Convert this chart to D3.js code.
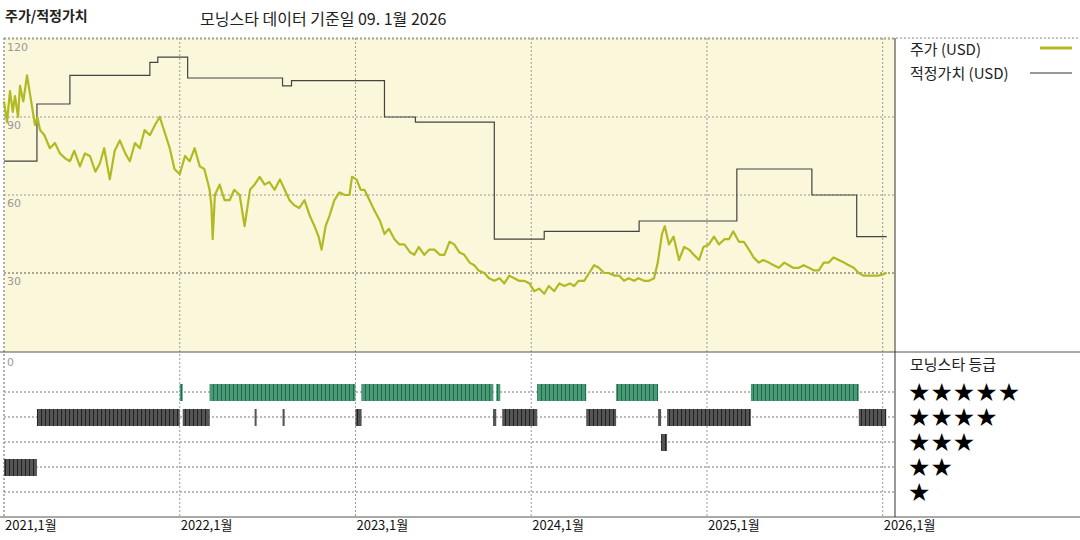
<!DOCTYPE html>
<html><head><meta charset="utf-8">
<script src="https://cdn.jsdelivr.net/npm/d3@7"></script>
<style>body{margin:0;background:#fff;font-family:"Noto Sans CJK KR","DejaVu Sans",sans-serif}</style>
</head><body><svg id="c" width="1080" height="540"></svg>
<script>
const yearTicks=[2021,2022,2023,2024,2025,2026];
const yearLabels=["2021,1월","2022,1월","2023,1월","2024,1월","2025,1월","2026,1월"];
const priceTicks=[120,90,60,30];
const priceT=[0,.017,.034,.05,.0625,.08,.091,.11,.131,.15,.176,.19,.205,.23,.261,.29,.318,.35,.375,.40,.432,.46,.489,.52,.545,.57,.602,.63,.659,.69,.716,.745,.773,.80,.830,.86,.886,.91,.943,.97,1.0,1.03,1.057,1.085,1.114,1.14,1.170,1.18,1.1875,1.20,1.227,1.255,1.284,1.31,1.341,1.369,1.40,1.426,1.455,1.483,1.51,1.540,1.57,1.597,1.625,1.653,1.68,1.710,1.74,1.767,1.79,1.807,1.83,1.852,1.88,1.909,1.94,1.966,1.98,2.006,2.03,2.051,2.08,2.108,2.14,2.165,2.19,2.222,2.25,2.278,2.31,2.335,2.36,2.392,2.42,2.449,2.48,2.506,2.535,2.562,2.59,2.619,2.65,2.676,2.70,2.733,2.76,2.790,2.82,2.847,2.875,2.903,2.93,2.960,2.99,3.017,3.045,3.074,3.10,3.131,3.16,3.188,3.22,3.244,3.27,3.301,3.33,3.358,3.385,3.415,3.44,3.472,3.50,3.528,3.555,3.585,3.61,3.642,3.67,3.699,3.72,3.744,3.76,3.784,3.81,3.841,3.87,3.898,3.925,3.955,3.98,4.011,4.04,4.068,4.10,4.125,4.15,4.182,4.21,4.239,4.265,4.295,4.32,4.352,4.38,4.409,4.44,4.466,4.49,4.523,4.55,4.580,4.61,4.636,4.665,4.693,4.72,4.75,4.78,4.807,4.835,4.864,4.89,4.920,4.95,4.977,5.023].map(t=>2021+t);
const priceV=[96,88,100,92,98,90,102,96,106,98,87,90,85,83,78,80,76,74,73,77,71,76,75,69,72,78,66,77,81,76,73,80,78,85,83,87,90,85,78,70,68,75,73,78,71,70,62,56,43,60,64,58,58,62,60,48,62,64,67,64,65,62,66,62,58,56,55,58,52,48,44,39,48,52,58,61,60,60,67,66,62,62,58,54,50,45,47,43,41,41,38,37,40,37,39,39,37,37,42,41,38,37,34,33,31,30,28,27,28,26,29,28,27,27,26,23,24,22,25,23,26,25,26,25,27,27,30,33,32,30,30,29,29,27,28,27,28,27,27,28,34,45,48,41,44,35,40,39,37,35,40,41,44,41,43,43,46,42,42,39,36,34,35,34,33,32,34,33,32,32,33,32,31,31,34,34,36,35,34,33,32,30,29,29,29,29,30];
const fairT=[2021.0,2021.1875,2021.375,2021.83,2021.875,2022.045,2022.585,2022.636,2023.165,2023.341,2023.790,2024.074,2024.614,2025.170,2025.597,2025.852,2026.023];
const fairV=[73,95,106,111,113,105,102,104,90,88,43,46,50,70,60,44,44];
const ratingStart=[2021.0,2021.1875,2022.0,2022.017,2022.170,2022.426,2022.585,2023.0,2023.034,2023.784,2023.801,2023.835,2024.034,2024.313,2024.483,2024.722,2024.739,2024.773,2025.25,2025.864];
const ratingEnd  =[2021.1875,2022.0,2022.017,2022.170,2023.0,2022.4375,2022.597,2023.034,2023.784,2023.801,2023.824,2024.034,2024.313,2024.483,2024.722,2024.739,2024.773,2025.25,2025.864,2026.02];
const ratingStars=[2,4,5,4,5,4,4,4,5,4,5,4,5,4,5,4,3,4,5,4];

const svg=d3.select("#c");
const L=4,R=895,T=38,M=352,B=517;
const x=d3.scaleLinear().domain([2021,2026.07]).range([L,R]);
const y=d3.scaleLinear().domain([0,120]).range([351,39]);
const ry=d3.scaleLinear().domain([5,1]).range([392,492]);

const defs=svg.append("defs");
function pat(id,bg,fg){const p=defs.append("pattern").attr("id",id).attr("width",4).attr("height",10).attr("patternUnits","userSpaceOnUse");
 p.append("rect").attr("width",4).attr("height",10).attr("fill",bg);
 p.append("rect").attr("x",1).attr("width",1).attr("height",10).attr("fill",fg);}
pat("pg","#4a9a78","#1f6a4a");pat("pk","#555","#222");

svg.append("rect").attr("x",L).attr("y",T).attr("width",R-L).attr("height",M-T).attr("fill","#fbf7da");
const dash="2,2";
priceTicks.forEach(v=>{svg.append("line").attr("x1",L).attr("x2",R).attr("y1",y(v)).attr("y2",y(v)).attr("stroke",v===30?"#555":"#999").attr("stroke-dasharray",dash);
 svg.append("text").attr("x",L+3).attr("y",y(v)+12).attr("font-size",11).attr("fill","#999").attr("font-family","DejaVu Sans").text(v);});
svg.append("line").attr("x1",L).attr("x2",1080).attr("y1",T).attr("y2",T).attr("stroke","#888").attr("stroke-dasharray",dash);
[5,4,3,2,1].forEach(s=>svg.append("line").attr("x1",L).attr("x2",R).attr("y1",ry(s)).attr("y2",ry(s)).attr("stroke","#777").attr("stroke-dasharray",dash));
svg.append("text").attr("x",L+3).attr("y",M+14).attr("font-size",11).attr("fill","#999").attr("font-family","DejaVu Sans").text("0");
yearTicks.forEach(t=>svg.append("line").attr("x1",x(t)).attr("x2",x(t)).attr("y1",T).attr("y2",B).attr("stroke","#999").attr("stroke-dasharray",dash));
svg.append("line").attr("x1",L).attr("x2",L).attr("y1",T).attr("y2",B).attr("stroke","#999").attr("stroke-dasharray",dash);
const fd=fairT.map((t,i)=>[t,fairV[i]]);
svg.append("path").datum(fd).attr("d",d3.line().x(d=>x(d[0])).y(d=>y(d[1])).curve(d3.curveStepAfter)).attr("fill","none").attr("stroke","#444").attr("stroke-width",1.2);
const pd=priceT.map((t,i)=>[t,priceV[i]]);
svg.append("path").datum(pd).attr("d",d3.line().x(d=>x(d[0])).y(d=>y(d[1]))).attr("fill","none").attr("stroke","#b1b923").attr("stroke-width",2.2).attr("stroke-linejoin","round");
ratingStart.forEach((s,i)=>{const st=ratingStars[i];
 svg.append("rect").attr("x",x(s)).attr("width",Math.max(2,x(ratingEnd[i])-x(s))).attr("y",ry(st)-8).attr("height",17).attr("fill",st===5?"url(#pg)":"url(#pk)");});
svg.append("line").attr("x1",0).attr("x2",1080).attr("y1",M).attr("y2",M).attr("stroke","#555");
svg.append("line").attr("x1",0).attr("x2",1080).attr("y1",B).attr("y2",B).attr("stroke","#555");
svg.append("line").attr("x1",R).attr("x2",R).attr("y1",T).attr("y2",B).attr("stroke","#333");
yearTicks.forEach((t,i)=>svg.append("text").attr("x",x(t)+1).attr("y",B+13).attr("font-size",13).attr("fill","#111").text(yearLabels[i]));
svg.append("text").attr("x",5).attr("y",21).attr("font-size",14).attr("font-weight","bold").attr("fill","#222").text("주가/적정가치");
svg.append("text").attr("x",200).attr("y",25).attr("font-size",16).attr("fill","#222").text("모닝스타 데이터 기준일 09. 1월 2026");
svg.append("text").attr("x",910).attr("y",55).attr("font-size",15).attr("fill","#222").text("주가 (USD)");
svg.append("line").attr("x1",1040).attr("x2",1072).attr("y1",48).attr("y2",48).attr("stroke","#b1b923").attr("stroke-width",3);
svg.append("text").attr("x",910).attr("y",79).attr("font-size",15).attr("fill","#222").text("적정가치 (USD)");
svg.append("line").attr("x1",1030).attr("x2",1072).attr("y1",73).attr("y2",73).attr("stroke","#333").attr("stroke-width",1.2);
svg.append("text").attr("x",910).attr("y",370).attr("font-size",15).attr("fill","#222").text("모닝스타 등급");
[5,4,3,2,1].forEach(s=>svg.append("text").attr("x",908).attr("y",ry(s)+9).attr("font-size",25).attr("fill","#000").attr("font-family","DejaVu Sans").text("★".repeat(s)));
</script></body></html>
